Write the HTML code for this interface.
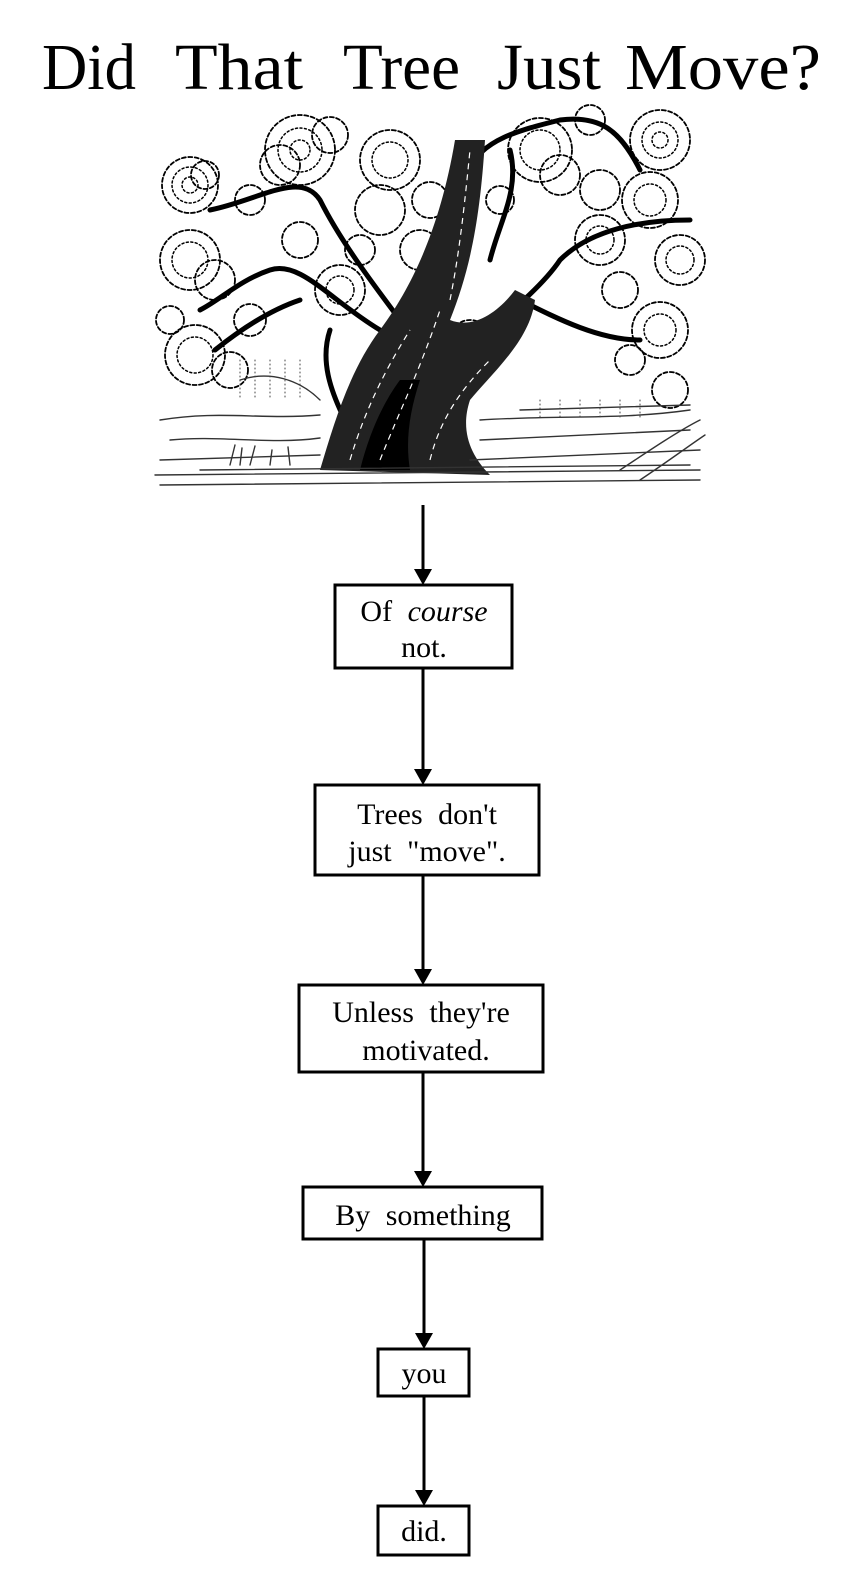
<!DOCTYPE html>
<html><head><meta charset="utf-8"><style>
html,body{margin:0;padding:0;background:#fff}
body{width:864px;height:1590px;position:relative;overflow:hidden}
svg{position:absolute;left:0;top:0}
</style></head><body>
<svg width="864" height="1590" viewBox="0 0 864 1590" xmlns="http://www.w3.org/2000/svg">
<g font-family="Liberation Serif, serif" font-size="66" fill="#000">
<text x="42" y="89" textLength="94" lengthAdjust="spacingAndGlyphs">Did</text>
<text x="175" y="89" textLength="128" lengthAdjust="spacingAndGlyphs">That</text>
<text x="343" y="89" textLength="117" lengthAdjust="spacingAndGlyphs">Tree</text>
<text x="497" y="89" textLength="104" lengthAdjust="spacingAndGlyphs">Just</text>
<text x="625" y="89" textLength="196" lengthAdjust="spacingAndGlyphs">Move?</text>
</g>
<!-- tree -->
<g fill="none" stroke="#000" stroke-linecap="round">
<g stroke-width="1.8" stroke-dasharray="4 2.5">
<circle cx="190" cy="185" r="28"/><circle cx="205" cy="175" r="14"/>
<circle cx="300" cy="150" r="35"/><circle cx="330" cy="135" r="18"/><circle cx="280" cy="165" r="20"/>
<circle cx="390" cy="160" r="30"/><circle cx="380" cy="210" r="25"/>
<circle cx="540" cy="150" r="32"/><circle cx="560" cy="175" r="20"/>
<circle cx="660" cy="140" r="30"/><circle cx="650" cy="200" r="28"/>
<circle cx="680" cy="260" r="25"/><circle cx="660" cy="330" r="28"/><circle cx="670" cy="390" r="18"/>
<circle cx="190" cy="260" r="30"/><circle cx="215" cy="280" r="20"/>
<circle cx="195" cy="355" r="30"/><circle cx="230" cy="370" r="18"/>
<circle cx="340" cy="290" r="25"/><circle cx="470" cy="340" r="20"/>
<circle cx="600" cy="240" r="25"/><circle cx="590" cy="120" r="15"/>
<circle cx="420" cy="250" r="20"/><circle cx="300" cy="240" r="18"/>
<circle cx="250" cy="200" r="15"/><circle cx="430" cy="200" r="18"/><circle cx="600" cy="190" r="20"/>
<circle cx="620" cy="290" r="18"/><circle cx="250" cy="320" r="16"/><circle cx="360" cy="250" r="15"/>
<circle cx="170" cy="320" r="14"/><circle cx="630" cy="360" r="15"/><circle cx="500" cy="200" r="14"/>
</g>
<g stroke-width="1.5" stroke-dasharray="2 2.5">
<circle cx="190" cy="185" r="18"/><circle cx="300" cy="150" r="22"/><circle cx="540" cy="150" r="20"/>
<circle cx="660" cy="140" r="18"/><circle cx="195" cy="355" r="18"/><circle cx="650" cy="200" r="16"/>
<circle cx="660" cy="330" r="16"/><circle cx="390" cy="160" r="18"/><circle cx="190" cy="260" r="18"/>
<circle cx="680" cy="260" r="14"/><circle cx="340" cy="290" r="14"/><circle cx="600" cy="240" r="14"/>
<circle cx="190" cy="185" r="8"/><circle cx="300" cy="150" r="10"/><circle cx="660" cy="140" r="8"/>
</g>
<g stroke-width="5">
<path d="M400 320 C370 280 340 240 320 200 C300 170 260 200 210 210"/>
<path d="M380 330 C330 300 300 260 270 270 C240 280 220 300 200 310"/>
<path d="M455 360 C500 320 540 290 560 260 C590 230 640 220 690 220"/>
<path d="M520 300 C560 320 600 340 640 340"/>
<path d="M490 260 C500 220 520 190 510 150"/>
<path d="M470 170 C480 140 520 130 560 120 C600 115 620 130 640 170"/>
<path d="M300 300 C270 310 240 330 215 350"/>
<path d="M330 330 C320 360 330 390 345 420"/>
</g>
</g>
<!-- trunk filled -->
<path d="M320 470 C335 420 350 370 380 330 C410 290 440 230 455 140 L485 140 C480 220 470 270 450 320 C475 330 500 310 515 290 L535 300 C530 340 495 370 470 400 C460 430 470 455 490 475 Z" fill="#222"/>
<path d="M360 470 C370 430 385 400 400 380 L420 380 C410 410 405 440 410 470 Z" fill="#000"/>
<g fill="none" stroke="#fff" stroke-width="1.2" stroke-dasharray="6 5">
<path d="M350 460 C365 410 385 370 410 330"/><path d="M380 460 C400 410 420 370 440 310"/>
<path d="M430 460 C440 420 460 390 490 360"/><path d="M450 300 C460 250 465 200 470 150"/>
</g>
<g fill="none" stroke="#000" stroke-linecap="round">
<g stroke-width="1.4" stroke="#333">
<path d="M160 420 C220 410 260 420 320 415"/><path d="M170 440 C220 435 270 445 320 438"/>
<path d="M160 460 L320 455"/><path d="M480 420 C560 415 620 420 690 410"/>
<path d="M480 440 L690 430"/><path d="M470 460 L700 450"/><path d="M160 485 L700 480"/>
<path d="M155 475 L700 470"/><path d="M200 470 L690 465"/>
<path d="M240 380 C270 370 300 380 320 400"/><path d="M520 410 L690 405"/>
<path d="M620 470 C650 450 680 430 700 420"/><path d="M640 480 C670 460 690 445 705 435"/>
<path d="M230 465 L235 445 M240 465 L242 448 M250 465 L255 446 M270 465 L272 450 M290 465 L288 447"/>
</g>
<g stroke-width="1" stroke="#444" stroke-dasharray="1 3">
<path d="M240 360 L240 400 M255 360 L255 400 M270 360 L270 400 M285 360 L285 400 M300 360 L300 400"/>
<path d="M540 400 L540 420 M560 400 L560 420 M580 400 L580 420 M600 400 L600 420 M620 400 L620 420 M640 400 L640 420"/>
</g>
</g>
<!-- connectors -->
<g stroke="#000" stroke-width="3" fill="none">
<line x1="423" y1="505" x2="423" y2="572"/>
<line x1="423" y1="668" x2="423" y2="772"/>
<line x1="423" y1="875" x2="423" y2="972"/>
<line x1="423" y1="1072" x2="423" y2="1174"/>
<line x1="424" y1="1239" x2="424" y2="1336"/>
<line x1="424" y1="1396" x2="424" y2="1493"/>
</g>
<g fill="#000">
<polygon points="414,569 432,569 423,585"/>
<polygon points="414,769 432,769 423,785"/>
<polygon points="414,969 432,969 423,985"/>
<polygon points="414,1171 432,1171 423,1187"/>
<polygon points="415,1333 433,1333 424,1349"/>
<polygon points="415,1490 433,1490 424,1506"/>
</g>
<g stroke="#000" stroke-width="3" fill="#fff">
<rect x="335" y="585" width="177" height="83"/>
<rect x="315" y="785" width="224" height="90"/>
<rect x="299" y="985" width="244" height="87"/>
<rect x="303" y="1187" width="239" height="52"/>
<rect x="378" y="1349" width="91" height="47"/>
<rect x="378" y="1506" width="91" height="49"/>
</g>
<g font-family="Liberation Serif, serif" font-size="30" fill="#000" text-anchor="middle" word-spacing="8">
<text x="424" y="621">Of <tspan font-style="italic">course</tspan></text>
<text x="424" y="657">not.</text>
<text x="427" y="824">Trees don't</text>
<text x="427" y="861">just "move".</text>
<text x="421" y="1022">Unless they're</text>
<text x="426" y="1060">motivated.</text>
<text x="423" y="1225">By something</text>
<text x="424" y="1383">you</text>
<text x="424" y="1541">did.</text>
</g>
</svg>
</body></html>
